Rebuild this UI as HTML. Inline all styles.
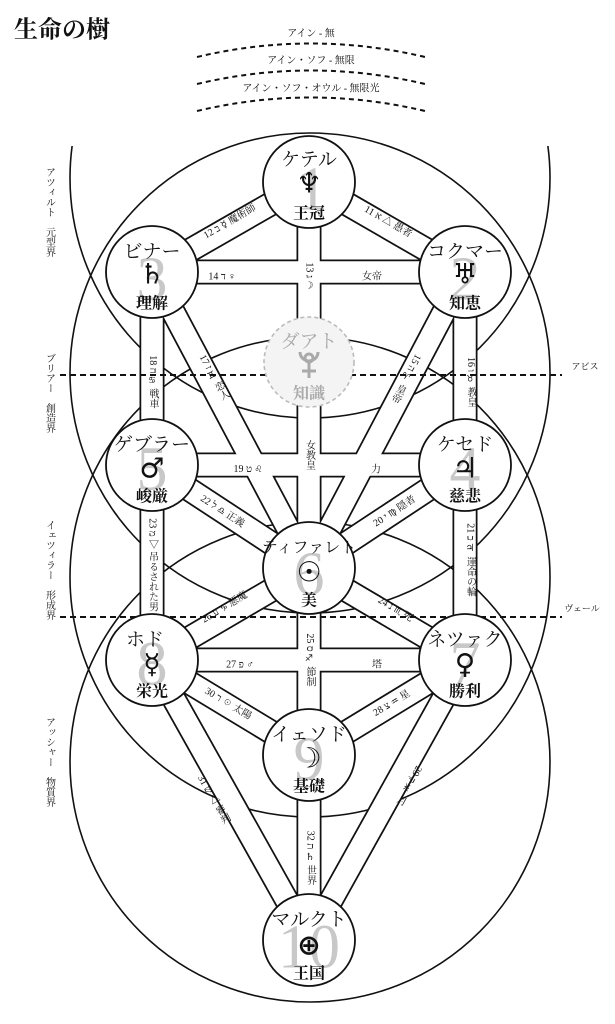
<!DOCTYPE html>
<html><head><meta charset="utf-8"><style>
html,body{margin:0;padding:0;background:#fff;}
#w{position:relative;width:615px;height:1024px;overflow:hidden;font-family:"Liberation Serif","Noto Serif CJK SC",serif;color:#111;}
svg{position:absolute;left:0;top:0;}
.l{position:absolute;white-space:nowrap;font-size:10px;line-height:11px;transform:translate(-50%,-50%);}
.v{writing-mode:vertical-rl;}
.z{font-family:"DejaVu Sans",sans-serif;font-size:9px;}
.t{position:absolute;white-space:nowrap;transform:translate(-50%,-50%);}
.nm{font-size:19px;}
.sy{font-family:"DejaVu Sans",sans-serif;font-size:28px;font-weight:bold;}
.mn{font-size:16px;font-weight:bold;}
.bg{position:absolute;transform:translate(-50%,-50%);font-size:62px;color:#c8c8c8;font-family:"Liberation Serif",serif;}
</style></head><body><div id="w">
<svg width="615" height="1024">
<defs><clipPath id="c1"><rect x="0" y="146" width="615" height="900"/></clipPath></defs>
<g fill="none" stroke="#111" stroke-width="1.6">
<circle cx="310" cy="178" r="240" clip-path="url(#c1)"/>
<circle cx="310" cy="373" r="240"/>
<circle cx="310" cy="577" r="240"/>
<circle cx="310" cy="762" r="240"/>
</g>
<g fill="none" stroke="#111" stroke-width="2" stroke-dasharray="5,4">
<path d="M197 57 Q311 30 425 57"/>
<path d="M197 84 Q311 57 425 84"/>
<path d="M197 111 Q311 84 425 111"/>
</g>
<g stroke="#111" stroke-width="25" stroke-linecap="butt">
<line x1="152" y1="272" x2="309" y2="182"/><line x1="465" y1="272" x2="309" y2="182"/>
<line x1="309" y1="182" x2="309" y2="568"/><line x1="152" y1="272" x2="465" y2="272"/>
<line x1="152" y1="272" x2="152" y2="660"/><line x1="465" y1="272" x2="465" y2="660"/>
<line x1="152" y1="272" x2="309" y2="568"/><line x1="465" y1="272" x2="309" y2="568"/>
<line x1="152" y1="465" x2="465" y2="465"/><line x1="152" y1="465" x2="309" y2="568"/>
<line x1="465" y1="465" x2="309" y2="568"/><line x1="152" y1="660" x2="309" y2="568"/>
<line x1="465" y1="660" x2="309" y2="568"/><line x1="152" y1="660" x2="465" y2="660"/>
<line x1="309" y1="568" x2="309" y2="940"/><line x1="152" y1="660" x2="309" y2="755"/>
<line x1="465" y1="660" x2="309" y2="755"/><line x1="152" y1="660" x2="309" y2="940"/>
<line x1="465" y1="660" x2="309" y2="940"/>
</g>
<g stroke="#fff" stroke-width="21.5">
<line x1="152" y1="272" x2="309" y2="182"/><line x1="465" y1="272" x2="309" y2="182"/>
<line x1="309" y1="182" x2="309" y2="568"/><line x1="152" y1="272" x2="465" y2="272"/>
<line x1="152" y1="272" x2="152" y2="660"/><line x1="465" y1="272" x2="465" y2="660"/>
<line x1="152" y1="272" x2="309" y2="568"/><line x1="465" y1="272" x2="309" y2="568"/>
<line x1="152" y1="465" x2="465" y2="465"/><line x1="152" y1="465" x2="309" y2="568"/>
<line x1="465" y1="465" x2="309" y2="568"/><line x1="152" y1="660" x2="309" y2="568"/>
<line x1="465" y1="660" x2="309" y2="568"/><line x1="152" y1="660" x2="465" y2="660"/>
<line x1="309" y1="568" x2="309" y2="940"/><line x1="152" y1="660" x2="309" y2="755"/>
<line x1="465" y1="660" x2="309" y2="755"/><line x1="152" y1="660" x2="309" y2="940"/>
<line x1="465" y1="660" x2="309" y2="940"/>
</g>
<g stroke="#111" stroke-width="2" stroke-dasharray="6,4">
<line x1="60" y1="375" x2="562" y2="375"/><line x1="60" y1="617" x2="562" y2="617"/>
</g>
<g fill="#fff" stroke="#111" stroke-width="1.8">
<circle cx="309" cy="182" r="46"/><circle cx="152" cy="272" r="46"/><circle cx="465" cy="272" r="46"/>
<circle cx="152" cy="465" r="46"/><circle cx="465" cy="465" r="46"/><circle cx="309" cy="568" r="46"/>
<circle cx="152" cy="660" r="46"/><circle cx="465" cy="660" r="46"/><circle cx="309" cy="755" r="46"/>
<circle cx="309" cy="940" r="46"/>
</g>
<circle cx="309" cy="362" r="45" fill="#f4f4f4" stroke="#bbb" stroke-width="1.6" stroke-dasharray="4,3"/>
<g fill="none" stroke="#aaa" stroke-width="3">
<circle cx="309" cy="358" r="4"/>
<path d="M300 352 A9 9 0 0 0 318 352"/>
<line x1="309" y1="362" x2="309" y2="378"/><line x1="302" y1="371" x2="316" y2="371"/>
</g>
</svg>

<div class="t" style="left:62px;top:27px;font-size:24px;font-weight:bold;">生命の樹</div>
<div class="t" style="left:311px;top:32px;font-size:10px;">アイン - 無</div>
<div class="t" style="left:311px;top:59px;font-size:10px;">アイン・ソフ - 無限</div>
<div class="t" style="left:311px;top:87px;font-size:10px;">アイン・ソフ・オウル - 無限光</div>
<div class="t" style="left:585px;top:366px;font-size:9px;">アビス</div>
<div class="t" style="left:582px;top:608px;font-size:9px;">ヴェール</div>
<div class="l v" style="left:49px;top:212px;">アツィルト　元型界</div>
<div class="l v" style="left:49px;top:393px;">ブリアー　創造界</div>
<div class="l v" style="left:49px;top:570px;">イェツィラー　形成界</div>
<div class="l v" style="left:49px;top:762px;">アッシャー　物質界</div>

<div class="bg" style="left:312px;top:190px;">1</div>
<div class="bg" style="left:465px;top:280px;">2</div>
<div class="bg" style="left:152px;top:280px;">3</div>
<div class="bg" style="left:465px;top:470px;">4</div>
<div class="bg" style="left:152px;top:470px;">5</div>
<div class="bg" style="left:309px;top:575px;">6</div>
<div class="bg" style="left:465px;top:665px;">7</div>
<div class="bg" style="left:152px;top:665px;">8</div>
<div class="bg" style="left:309px;top:760px;">9</div>
<div class="bg" style="left:309px;top:948px;">10</div>

<div class="t nm" style="left:309px;top:158px;">ケテル</div><div class="t sy" style="left:309px;top:183px;">♆</div><div class="t mn" style="left:309px;top:212px;">王冠</div>
<div class="t nm" style="left:152px;top:250px;">ビナー</div><div class="t sy" style="left:152px;top:274px;">♄</div><div class="t mn" style="left:152px;top:302px;">理解</div>
<div class="t nm" style="left:465px;top:250px;">コクマー</div><div class="t sy" style="left:465px;top:274px;">♅</div><div class="t mn" style="left:465px;top:302px;">知恵</div>
<div class="t nm" style="left:309px;top:340px;color:#aaa;">ダアト</div><div class="t mn" style="left:309px;top:392px;color:#aaa;">知識</div>
<div class="t nm" style="left:152px;top:443px;">ゲブラー</div><div class="t sy" style="left:152px;top:468px;">♂</div><div class="t mn" style="left:152px;top:495px;">峻厳</div>
<div class="t nm" style="left:465px;top:443px;">ケセド</div><div class="t sy" style="left:465px;top:468px;">♃</div><div class="t mn" style="left:465px;top:495px;">慈悲</div>
<div class="t nm" style="left:309px;top:546px;font-size:16px;">ティファレト</div><div class="t sy" style="left:309px;top:572px;">☉</div><div class="t mn" style="left:309px;top:599px;">美</div>
<div class="t nm" style="left:145px;top:638px;">ホド</div><div class="t sy" style="left:152px;top:664px;">☿</div><div class="t mn" style="left:152px;top:690px;">栄光</div>
<div class="t nm" style="left:465px;top:638px;">ネツァク</div><div class="t sy" style="left:465px;top:664px;">♀</div><div class="t mn" style="left:465px;top:690px;">勝利</div>
<div class="t nm" style="left:309px;top:733px;">イェソド</div><div class="t sy" style="left:309px;top:758px;">☽</div><div class="t mn" style="left:309px;top:785px;">基礎</div>
<div class="t nm" style="left:309px;top:918px;">マルクト</div><div class="t sy" style="left:309px;top:945px;">⊕</div><div class="t mn" style="left:309px;top:972px;">王国</div>

<div class="l" style="left:230px;top:222px;transform:translate(-50%,-50%) rotate(-30deg);">12 ב ☿ 魔術師</div>
<div class="l" style="left:388px;top:222px;transform:translate(-50%,-50%) rotate(30deg);">11 א △ 愚者</div>
<div class="l" style="left:222px;top:277px;">14 ד ♀</div>
<div class="l" style="left:372px;top:277px;">女帝</div>
<div class="l v" style="left:309px;top:277px;">13 ג ☽</div>
<div class="l v" style="left:152px;top:382px;">18 ח <span class="z">♋&#xFE0E;</span> 戦車</div>
<div class="l v" style="left:470px;top:382px;">16 ו <span class="z">♉&#xFE0E;</span> 教皇</div>
<div class="l v" style="left:213px;top:378px;transform:translate(-50%,-50%) rotate(-28deg);">17 ז <span class="z">♊&#xFE0E;</span> 恋人</div>
<div class="l v" style="left:405px;top:378px;transform:translate(-50%,-50%) rotate(28deg);">15 ה <span class="z">♈&#xFE0E;</span> 皇帝</div>
<div class="l v" style="left:309px;top:455px;">女教皇</div>
<div class="l" style="left:248px;top:470px;">19 ט <span class="z">♌&#xFE0E;</span></div>
<div class="l" style="left:376px;top:470px;">力</div>
<div class="l" style="left:222px;top:512px;transform:translate(-50%,-50%) rotate(33deg);">22 ל <span class="z">♎&#xFE0E;</span> 正義</div>
<div class="l" style="left:395px;top:512px;transform:translate(-50%,-50%) rotate(-33deg);">20 י <span class="z">♍&#xFE0E;</span> 隠者</div>
<div class="l v" style="left:152px;top:565px;">23 מ ▽ 吊るされた男</div>
<div class="l v" style="left:470px;top:560px;">21 כ ♃ 運命の輪</div>
<div class="l" style="left:225px;top:608px;transform:translate(-50%,-50%) rotate(-31deg);">26 ע <span class="z">♑&#xFE0E;</span> 悪魔</div>
<div class="l" style="left:395px;top:610px;transform:translate(-50%,-50%) rotate(31deg);">24 נ <span class="z">♏&#xFE0E;</span> 死</div>
<div class="l v" style="left:309px;top:660px;">25 ס <span class="z">♐&#xFE0E;</span> 節制</div>
<div class="l" style="left:240px;top:665px;">27 פ ♂</div>
<div class="l" style="left:377px;top:665px;">塔</div>
<div class="l" style="left:228px;top:704px;transform:translate(-50%,-50%) rotate(31deg);">30 ר ☉ 太陽</div>
<div class="l" style="left:392px;top:704px;transform:translate(-50%,-50%) rotate(-31deg);">28 צ <span class="z">♒&#xFE0E;</span> 星</div>
<div class="l v" style="left:213px;top:800px;transform:translate(-50%,-50%) rotate(-29deg);">31 ש △ 審判</div>
<div class="l v" style="left:408px;top:785px;transform:translate(-50%,-50%) rotate(29deg);">29 ק <span class="z">♓&#xFE0E;</span> 月</div>
<div class="l v" style="left:310px;top:858px;">32 ת ♄ 世界</div>
</div></body></html>
